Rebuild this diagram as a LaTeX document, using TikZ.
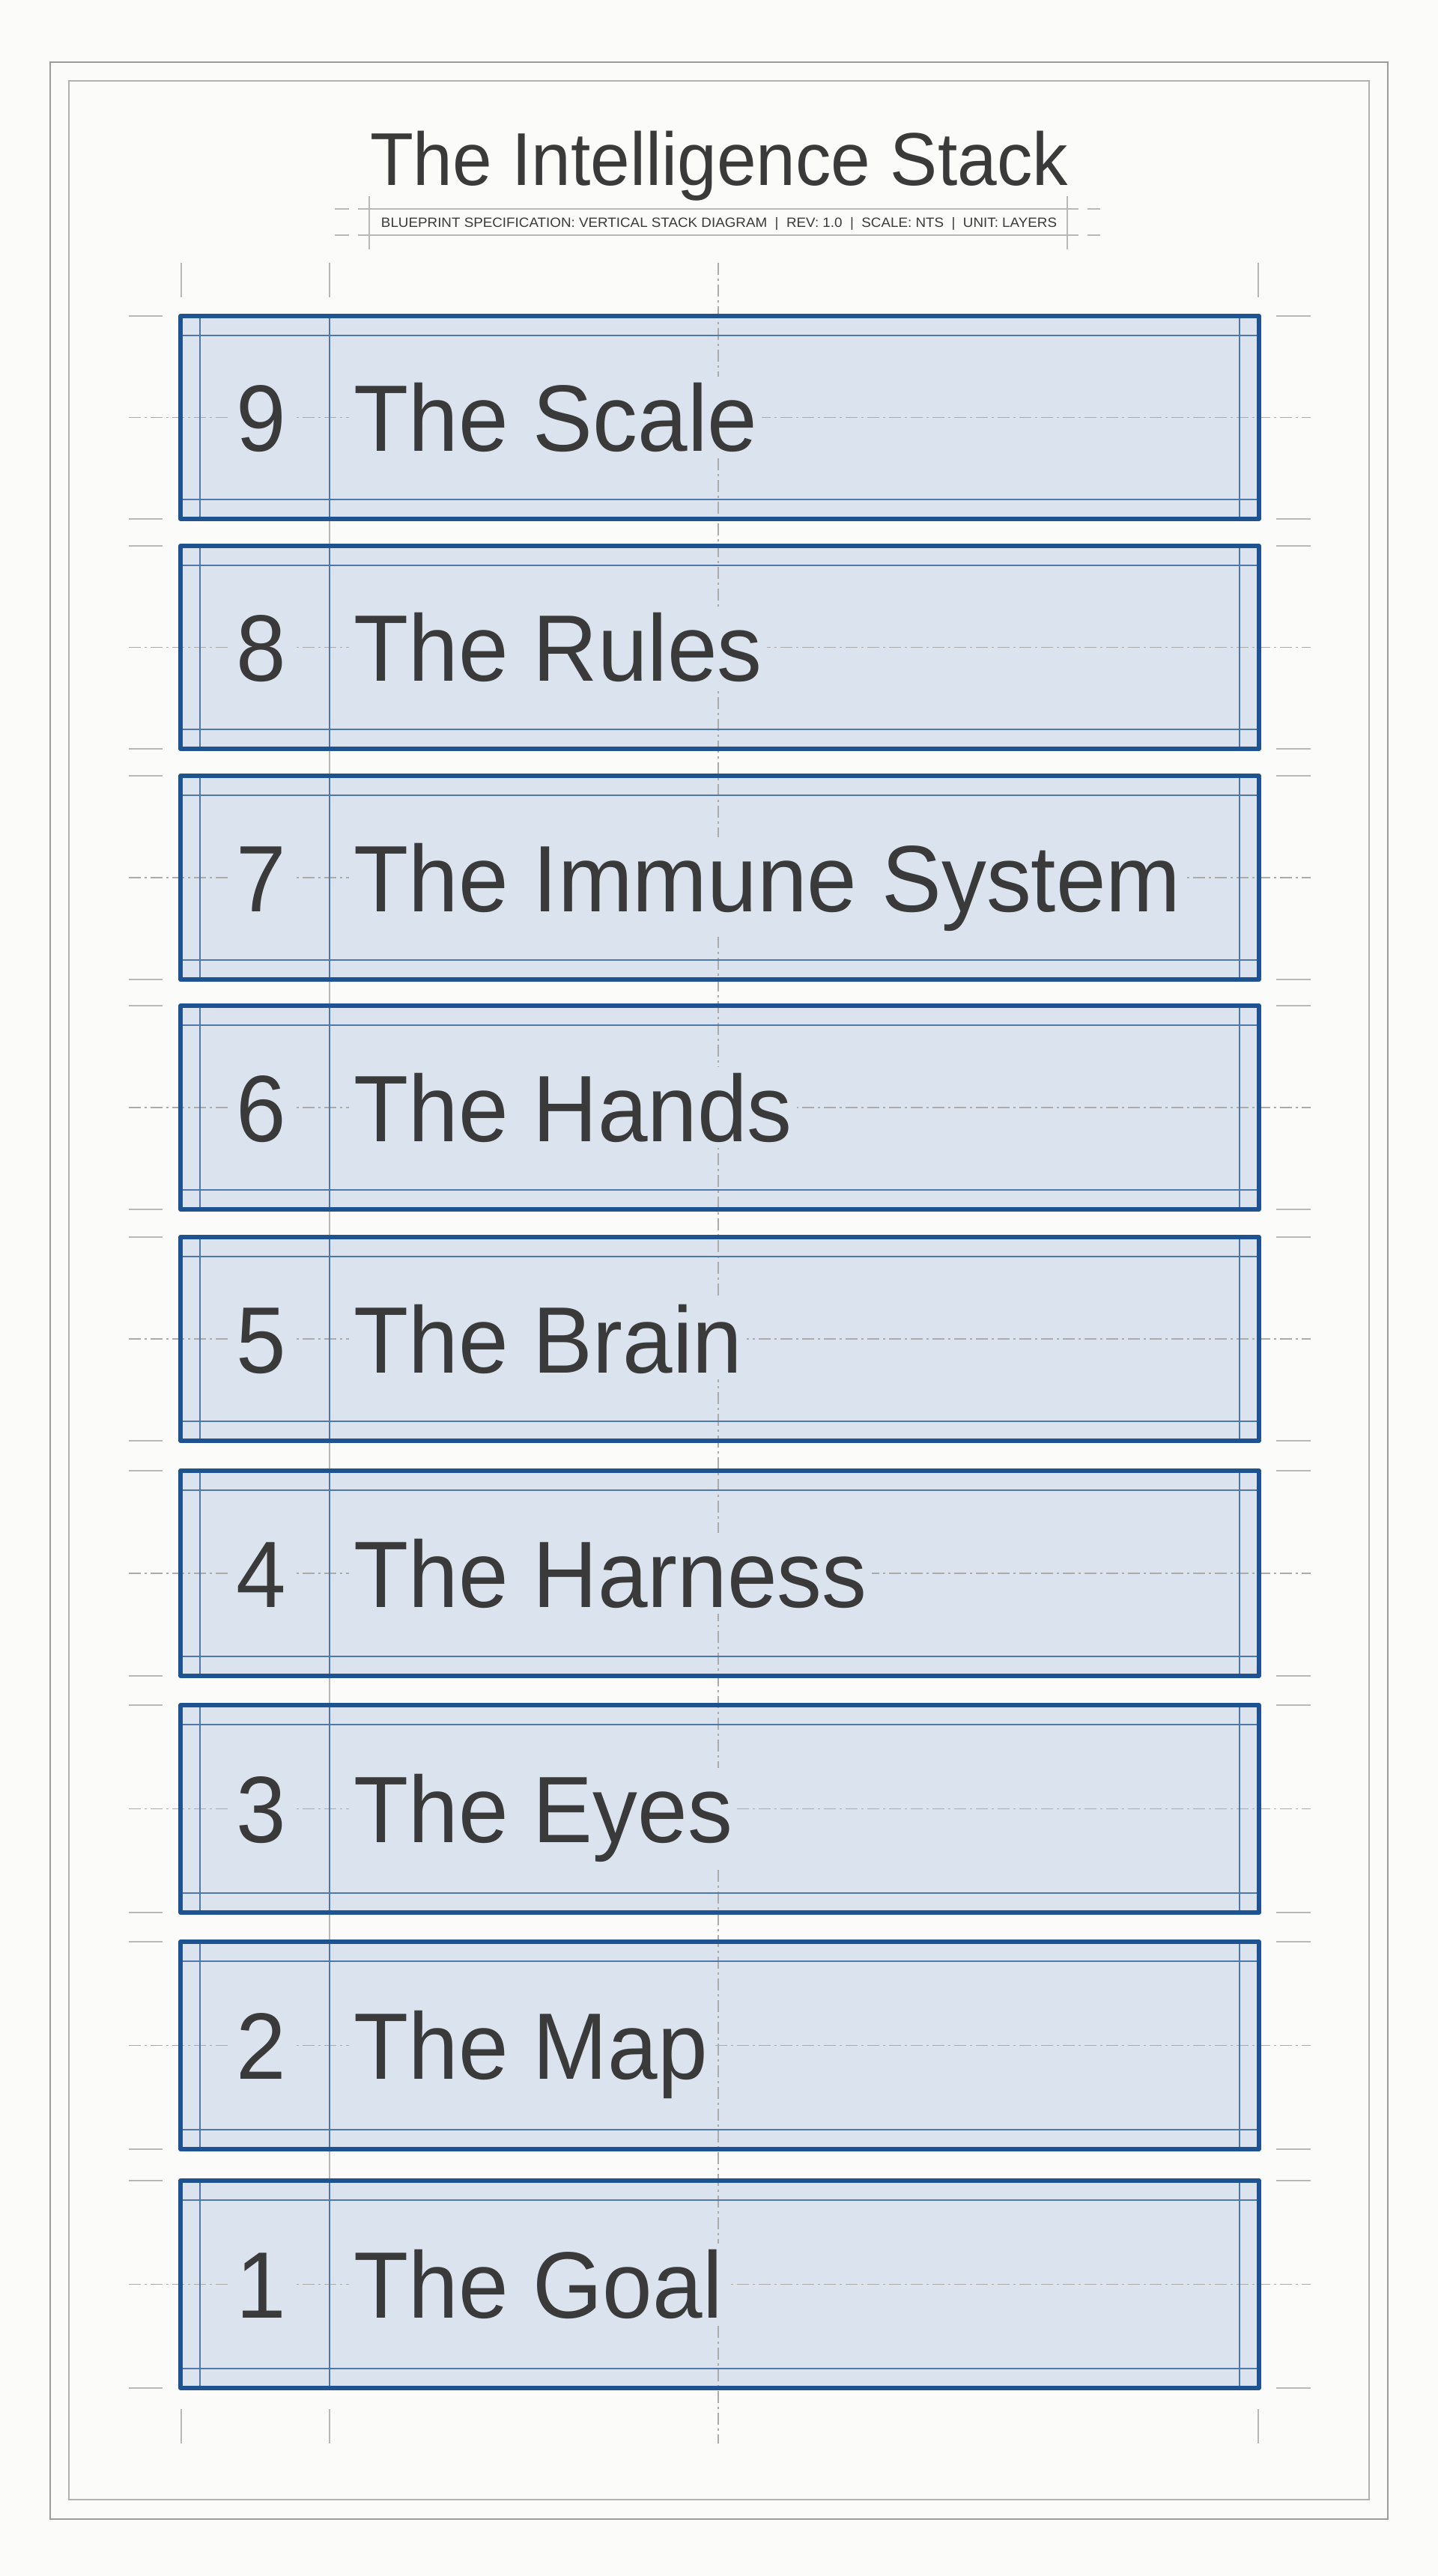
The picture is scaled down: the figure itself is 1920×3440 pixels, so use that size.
\documentclass[tikz,border=0pt]{standalone}
\usepackage{fontspec}
\setmainfont{Liberation Sans}
\definecolor{bg}{HTML}{FBFBFA}
\definecolor{frameA}{HTML}{9C9C9C}
\definecolor{frameB}{HTML}{B2B2B2}
\definecolor{tickgray}{HTML}{B8B8B8}
\definecolor{dashgray}{HTML}{ABABAB}
\definecolor{boxfill}{HTML}{DAE3EE}
\definecolor{edgeblue}{HTML}{1F5290}
\definecolor{innerblue}{HTML}{4F78A8}
\definecolor{txt}{HTML}{3A3A3A}
\tikzset{
  tickln/.style={draw=tickgray, line width=1pt},
  ddash/.style={draw=dashgray, line width=0.9pt, dash pattern=on 8pt off 2.5pt on 1.5pt off 2.5pt},
  boxedge/.style={draw=edgeblue, line width=2.8pt, line join=round},
  innerln/.style={draw=innerblue, line width=0.8pt},
  numtxt/.style={text=txt, fill=boxfill, inner xsep=6pt, inner ysep=4pt, font=\fontsize{63pt}{70pt}\selectfont, anchor=base},
  labtxt/.style={text=txt, fill=boxfill, inner xsep=3pt, inner ysep=4pt, font=\fontsize{63pt}{70pt}\selectfont, anchor=base west},
}
\def\boxlist{9/422/693/The Scale, 8/729/1000/The Rules, 7/1036/1308/The Immune System, 6/1343/1615/The Hands, 5/1652/1924/The Brain, 4/1964/2238/The Harness, 3/2277/2554/The Eyes, 2/2593/2870/The Map, 1/2912/3189/The Goal}
\begin{document}
\begin{tikzpicture}[x=0.5pt,y=-0.5pt]
\useasboundingbox (0,0) rectangle (1920,3440);
\fill[bg] (0,0) rectangle (1920,3440);
% frames
\draw[frameA, line width=1.1pt] (67,83) rectangle (1853,3364);
\draw[frameB, line width=1pt] (92,108) rectangle (1828,3338);
% title
\node[text=txt, font=\fontsize{50pt}{56pt}\selectfont, anchor=base, inner sep=0pt] (title) at (960,248) {\resizebox{466pt}{\height}{The Intelligence Stack}};
% subtitle rules
\draw[tickln] (478,279) -- (1440,279);
\draw[tickln] (478,314) -- (1440,314);
\draw[tickln] (447,279) -- (466,279);
\draw[tickln] (447,314) -- (466,314);
\draw[tickln] (1452,279) -- (1469,279);
\draw[tickln] (1452,314) -- (1469,314);
\draw[tickln] (493,262) -- (493,333);
\draw[tickln] (1425,262) -- (1425,333);
\node[text=txt, anchor=base, inner sep=0pt] (subtitle) at (960,304) {\resizebox{451pt}{\height}{\fontsize{9pt}{11pt}\selectfont BLUEPRINT SPECIFICATION: VERTICAL STACK DIAGRAM \ | \ REV: 1.0 \ | \ SCALE: NTS \ | \ UNIT: LAYERS}};
% extension ticks
\foreach \xx in {242,440,1680}{
  \draw[tickln] (\xx,351) -- (\xx,397);
  \draw[tickln] (\xx,3217) -- (\xx,3263);
}
% divider guide through gaps
\draw[tickln] (440,422) -- (440,3189);
% box fills
\foreach \n/\t/\b/\lab in \boxlist{
  \fill[boxfill] (241,\t) rectangle (1681,\b);
}
% centre lines
\draw[ddash] (959,351) -- (959,3263);
\foreach \n/\t/\b/\lab in \boxlist{
  \pgfmathsetmacro\c{(\t+\b)/2}
  \draw[ddash] (172,\c) -- (1750,\c);
}
% inner lines, borders, ticks
\foreach \n/\t/\b/\lab in \boxlist{
  \draw[innerln] (267,\t) -- (267,\b);
  \draw[innerln] (1655,\t) -- (1655,\b);
  \draw[innerln] (440,\t) -- (440,\b);
  \draw[innerln] (241,{\t+26}) -- (1681,{\t+26});
  \draw[innerln] (241,{\b-26}) -- (1681,{\b-26});
  \draw[boxedge] (241,\t) rectangle (1681,\b);
  \draw[tickln] (172,\t) -- (217,\t);
  \draw[tickln] (172,\b) -- (217,\b);
  \draw[tickln] (1704,\t) -- (1750,\t);
  \draw[tickln] (1704,\b) -- (1750,\b);
}
% texts
\foreach \n/\t/\b/\lab in \boxlist{
  \pgfmathsetmacro\c{(\t+\b)/2+45}
  \node[numtxt] (num\n) at (349,\c) {\scalebox{0.95}[1]{\n}};
  \node[labtxt] (lab\n) at (466,\c) {\scalebox{0.95}[1]{\lab}};
}
\end{tikzpicture}
\end{document}
